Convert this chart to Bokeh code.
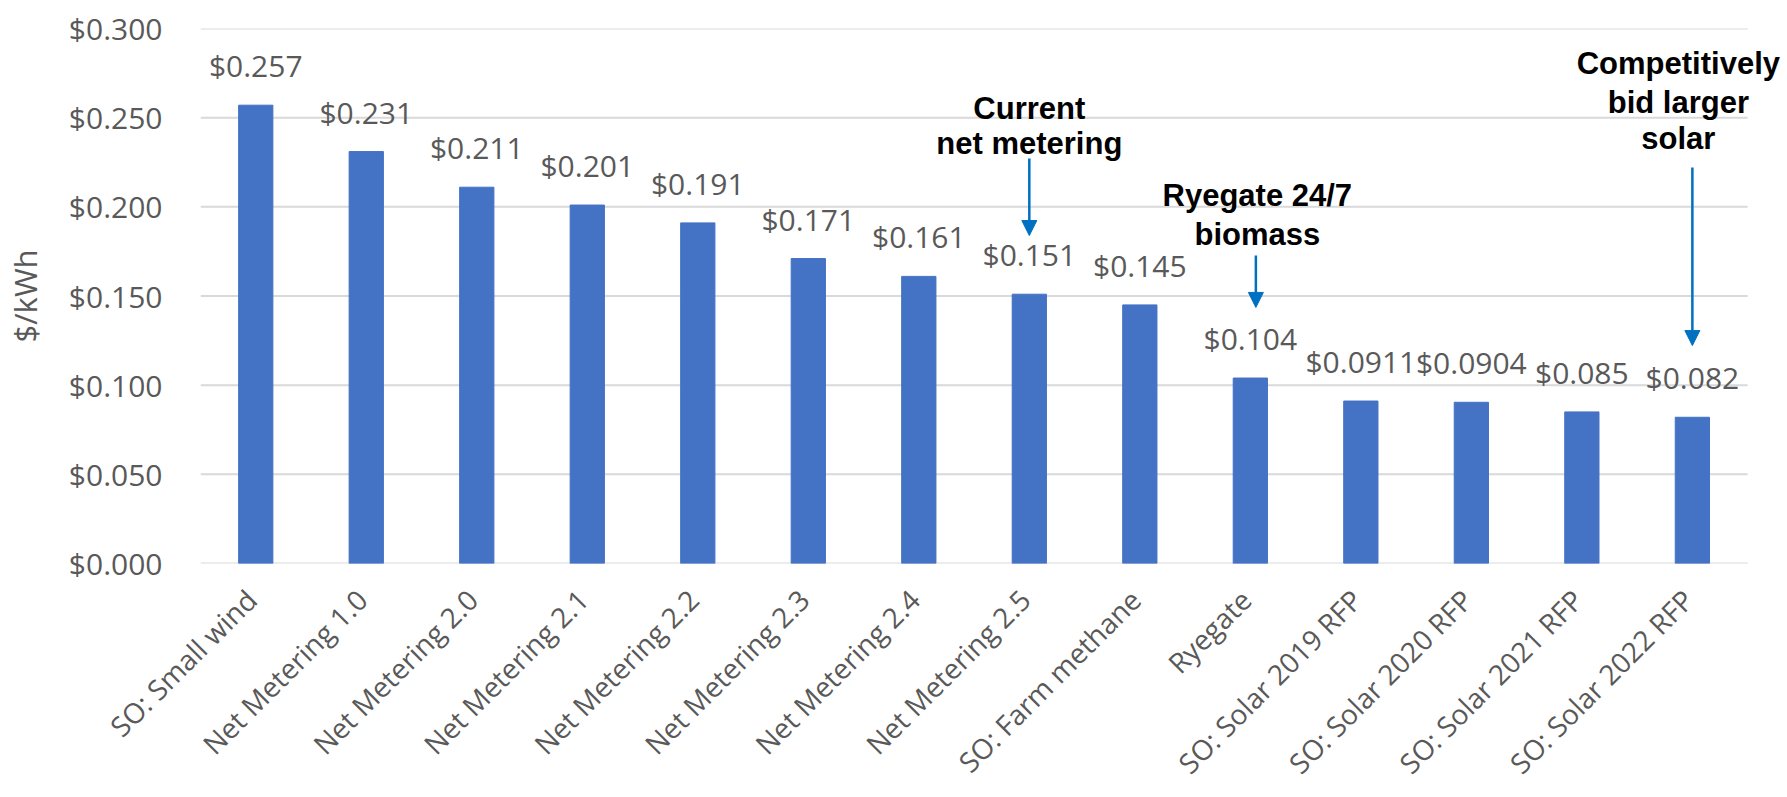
import numpy as np
from bokeh.plotting import figure
from bokeh.models import (ColumnDataSource, LabelSet, Label, Arrow, NormalHead,
                          Range1d, FixedTicker, NumeralTickFormatter)
from bokeh.core.properties import value
from bokeh.embed import file_html
from bokeh.resources import INLINE

# ---------------- data ----------------
categories = [
    "SO: Small wind", "Net Metering 1.0", "Net Metering 2.0", "Net Metering 2.1",
    "Net Metering 2.2", "Net Metering 2.3", "Net Metering 2.4", "Net Metering 2.5",
    "SO: Farm methane", "Ryegate", "SO: Solar 2019 RFP", "SO: Solar 2020 RFP",
    "SO: Solar 2021 RFP", "SO: Solar 2022 RFP",
]
cost_per_kwh = [0.257, 0.231, 0.211, 0.201, 0.191, 0.171, 0.161, 0.151,
                0.145, 0.104, 0.0911, 0.0904, 0.085, 0.082]
value_labels = ["$" + str(v) for v in cost_per_kwh]
y_ticks = [0.0, 0.05, 0.10, 0.15, 0.20, 0.25, 0.30]
y_axis_title = "$/kWh"

# call-outs: target category, text lines
callout_targets = ["Net Metering 2.5", "Ryegate", "SO: Solar 2022 RFP"]
callout_texts = [["Current", "net metering"],
                 ["Ryegate 24/7", "biomass"],
                 ["Competitively", "bid larger", "solar"]]

# ---------------- style / layout ----------------
BAR = "#4472C4"
GREY_TXT = "#595959"
GRID = "#d9d9d9"
ARROW_C = "#0070C0"
FONT = "Open Sans"

n = len(categories)
x_pos = np.arange(n) + 0.5

W, H = 1787, 797
LEFT, TOP = 195, 28
PLOT_RIGHT, ZERO_Y = 1747, 563
px_per_x = (PLOT_RIGHT - LEFT) / n
x_end = (W - LEFT) / px_per_x          # frame runs to the right edge (call-out room)

p = figure(width=W, height=H,
           x_range=Range1d(0, x_end), y_range=Range1d(0, 0.3),
           output_backend="svg", toolbar_location=None,
           min_border_left=LEFT, min_border_right=0,
           min_border_top=TOP, min_border_bottom=H - ZERO_Y)
p.outline_line_color = None
p.background_fill_color = "white"
p.border_fill_color = "white"
p.xgrid.grid_line_color = None
p.ygrid.grid_line_color = None

# horizontal grid lines (and zero line) across the category area
p.segment(x0=[0] * len(y_ticks), x1=[n] * len(y_ticks), y0=y_ticks, y1=y_ticks,
          line_color=GRID, line_width=2)

p.vbar(x=x_pos, top=cost_per_kwh, width=0.31, color=BAR)

# y axis
p.yaxis.ticker = FixedTicker(ticks=y_ticks)
p.yaxis.formatter = NumeralTickFormatter(format="$0.000")
p.yaxis.axis_line_color = None
p.yaxis.major_tick_line_color = None
p.yaxis.minor_tick_line_color = None
p.yaxis.major_label_text_font = FONT
p.yaxis.major_label_text_font_size = "30px"
p.yaxis.major_label_text_color = GREY_TXT
p.yaxis.major_label_standoff = 32
p.yaxis.axis_label = y_axis_title
p.yaxis.axis_label_text_font = FONT
p.yaxis.axis_label_text_font_size = "31px"
p.yaxis.axis_label_text_font_style = "normal"
p.yaxis.axis_label_text_color = GREY_TXT
p.yaxis.axis_label_standoff = 20

# x axis: slanted category names
label_ticks = [float(x) - 0.04 for x in x_pos]
p.xaxis.ticker = FixedTicker(ticks=label_ticks)
p.xaxis.major_label_overrides = {t: c for t, c in zip(label_ticks, categories)}
p.xaxis.major_label_orientation = np.pi / 4
p.xaxis.major_label_standoff = 25
p.xaxis.major_label_text_font = FONT
p.xaxis.major_label_text_font_size = "28px"
p.xaxis.major_label_text_color = GREY_TXT
p.xaxis.axis_line_color = None
p.xaxis.major_tick_line_color = None
p.xaxis.minor_tick_line_color = None

# value labels
val_src = ColumnDataSource(dict(x=x_pos, y=cost_per_kwh, text=value_labels))
p.add_layout(LabelSet(x="x", y="y", text="text", source=val_src,
                      text_align="center", text_baseline="alphabetic", y_offset=28,
                      text_font=value(FONT), text_font_size="30px", text_color=GREY_TXT))

# call-outs
line_base_y = [[0.2551, 0.2355], [0.2064, 0.1845], [0.2804, 0.2585, 0.2383]]
text_dx = [0, 7, -14]
arrow_y = [(0.2271, 0.1839), (0.1727, 0.1436), (0.2221, 0.1222)]
arrow_dx = [0.0, 0.05, 0.0]
for k, tgt in enumerate(callout_targets):
    xc = x_pos[categories.index(tgt)]
    for line, yb in zip(callout_texts[k], line_base_y[k]):
        p.add_layout(Label(x=xc, y=yb, text=line, x_offset=text_dx[k],
                           text_align="center", text_baseline="alphabetic",
                           text_font="Liberation Sans", text_font_style="bold",
                           text_font_size="31px", text_color="black"))
    p.add_layout(Arrow(end=NormalHead(size=15, fill_color=ARROW_C, line_color=ARROW_C),
                       x_start=xc + arrow_dx[k], y_start=arrow_y[k][0],
                       x_end=xc + arrow_dx[k], y_end=arrow_y[k][1],
                       line_color=ARROW_C, line_width=2.5))

open("out.html", "w").write(file_html(p, INLINE))
